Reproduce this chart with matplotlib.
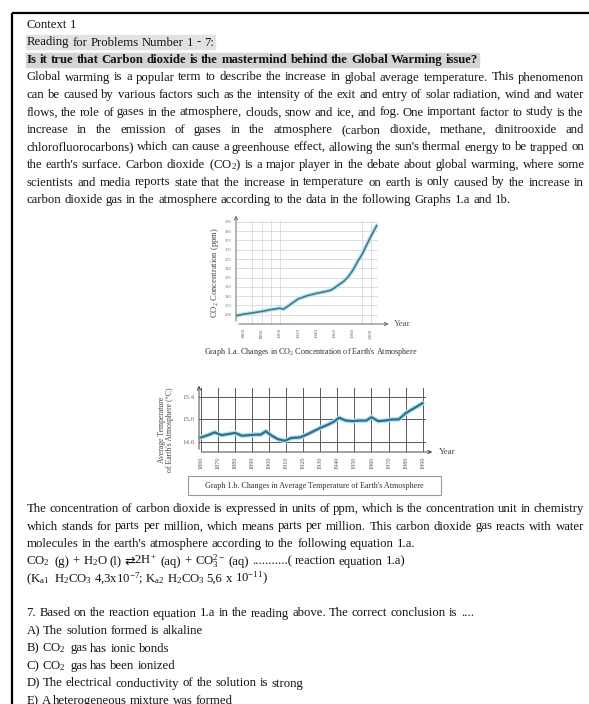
import matplotlib
matplotlib.use("Agg")
import matplotlib.pyplot as plt
from matplotlib.patches import Rectangle

plt.rcParams['font.family'] = ['Liberation Serif', 'DejaVu Sans']
plt.rcParams['mathtext.fontset'] = 'custom'
plt.rcParams['mathtext.rm'] = 'Liberation Serif'
plt.rcParams['mathtext.it'] = 'Liberation Serif:italic'
plt.rcParams['mathtext.bf'] = 'Liberation Serif:bold'

# Graph 1.a - CO2 concentration (ppm)
co2_years = [1852, 1860, 1870, 1880, 1890, 1900, 1904, 1910, 1920, 1930, 1940,
             1950, 1956, 1960, 1970, 1975, 1980, 1985, 1990, 1995, 2000, 2006]
co2_ppm = [289, 290.5, 292, 293.5, 295.5, 297, 296, 300, 307, 310.5, 313,
           315, 316.5, 319, 326, 331, 338, 347, 355, 365, 375, 386]
co2_xticks = [1860, 1880, 1900, 1920, 1940, 1960, 1980, 2000]
co2_yticks = [290, 300, 310, 320, 330, 340, 350, 360, 370, 380, 390]
co2_vgrid = [1870, 1880, 1890, 1900, 1990, 2000]

# Graph 1.b - average temperature (C)
temp_years = [1860, 1864, 1868, 1872, 1876, 1880, 1884, 1888, 1892, 1895, 1898,
              1901, 1905, 1909, 1913, 1918, 1922, 1926, 1930, 1934, 1938, 1941,
              1945, 1949, 1953, 1957, 1960, 1964, 1968, 1972, 1976, 1980, 1985, 1990]
temp_c = [14.68, 14.72, 14.77, 14.72, 14.74, 14.76, 14.71, 14.72, 14.73, 14.73, 14.79,
          14.72, 14.65, 14.62, 14.67, 14.68, 14.73, 14.79, 14.85, 14.90, 14.96, 15.03,
          14.98, 14.97, 14.98, 14.98, 15.04, 14.97, 14.98, 15.00, 15.00, 15.11, 15.20, 15.29]
temp_xticks = [1860, 1870, 1880, 1890, 1900, 1910, 1920, 1930, 1940, 1950, 1960, 1970, 1980, 1990]
temp_yticks = [14.6, 15.0, 15.4]

CO2 = r'$\mathregular{CO_2}$'

header = ["Context 1", "Reading for Problems Number 1 - 7:",
          "Is it true that Carbon dioxide is the mastermind behind the Global Warming issue?"]

para1 = [
    "Global warming is a popular term to describe the increase in global average temperature. This phenomenon",
    "can be caused by various factors such as the intensity of the exit and entry of solar radiation, wind and water",
    "flows, the role of gases in the atmosphere, clouds, snow and ice, and fog. One important factor to study is the",
    "increase in the emission of gases in the atmosphere (carbon dioxide, methane, dinitrooxide and",
    "chlorofluorocarbons) which can cause a greenhouse effect, allowing the sun's thermal energy to be trapped on",
    "the earth's surface. Carbon dioxide (" + CO2 + ") is a major player in the debate about global warming, where some",
    "scientists and media reports state that the increase in temperature on earth is only caused by the increase in",
    "carbon dioxide gas in the atmosphere according to the data in the following Graphs 1.a and 1b.",
]

para2 = [
    "The concentration of carbon dioxide is expressed in units of ppm, which is the concentration unit in chemistry",
    "which stands for parts per million, which means parts per million. This carbon dioxide gas reacts with water",
    "molecules in the earth's atmosphere according to the following equation 1.a.",
    # the equilibrium arrow is a plain word so it can fall back to DejaVu Sans
    CO2 + r" (g) + $\mathregular{H_2}$O (l) ⇄ 2H$\mathregular{^+}$ (aq) + $\mathregular{CO_3^{2-}}$ (aq) ...........( reaction equation 1.a)",
    r"($\mathregular{K_{a1}}$ $\mathregular{H_2CO_3}$ 4,3x10$\mathregular{^{-7}}$; "
    r"$\mathregular{K_{a2}}$ $\mathregular{H_2CO_3}$ 5,6 x 10$\mathregular{^{-11}}$)",
]

question = [
    "7. Based on the reaction equation 1.a in the reading above. The correct conclusion is ....",
    "A) The solution formed is alkaline",
    "B) " + CO2 + " gas has ionic bonds",
    "C) " + CO2 + " gas has been ionized",
    "D) The electrical conductivity of the solution is strong",
    "E) A heterogeneous mixture was formed",
]

W, H = 589, 704
LEFT, RIGHT = 26.5, 584
STEP = 17.5
FS = 9.15
INK = '#141414'

fig = plt.figure(figsize=(W / 100, H / 100), dpi=100)
page = fig.add_axes([0, 0, 1, 1])
page.set_xlim(0, W)
page.set_ylim(H, 0)
page.axis('off')
renderer = fig.canvas.get_renderer()


def ink_width(s, **kw):
    t = page.text(0, 0, s, fontsize=FS, **kw)
    w = t.get_window_extent(renderer).width
    t.remove()
    return w


def put_line(text, y, justify=False, **kw):
    # each word sits where it falls in the whole line, measured as a prefix
    words = text.split(' ')
    wx = ink_width('x', **kw)
    starts = [0.0]
    for i in range(1, len(words)):
        starts.append(ink_width(' '.join(words[:i]) + ' x', **kw) - wx)
    full = ink_width(text, **kw)
    extra = (RIGHT - LEFT - full) / (len(words) - 1) if justify and len(words) > 1 else 0.0
    for i, (w, s) in enumerate(zip(words, starts)):
        page.text(LEFT + s + i * extra, y, w, va='baseline', fontsize=FS, color=INK, **kw)
    return LEFT + full + extra * (len(words) - 1)


# page frame
page.plot([12, 12], [12.5, H], color='black', lw=1.6, solid_capstyle='butt')
page.plot([12, W], [12.5, 12.5], color='black', lw=1.6, solid_capstyle='butt')

y = 28
put_line(header[0], y)
y += STEP
end = put_line(header[1], y)
page.add_patch(Rectangle((LEFT - 1, y - 10.5), end - LEFT + 2, 14, color='#e2e2e2', zorder=0))
y += STEP
end = put_line(header[2], y, fontweight='bold')
page.add_patch(Rectangle((LEFT - 1, y - 10.5), end - LEFT + 2, 14, color='#d4d4d4', zorder=0))
y += STEP
for i, line in enumerate(para1):
    put_line(line, y, justify=i < len(para1) - 1)
    y += STEP

y = 512
for i, line in enumerate(para2):
    put_line(line, y, justify=i < 2)
    y += STEP

y = 616.5
for line in question:
    put_line(line, y)
    y += STEP


def px_axes(left, top, right, bottom):
    return fig.add_axes([left / W, 1 - bottom / H, (right - left) / W, (bottom - top) / H])


def style_axes(ax, arrow_col, xtip):
    for s in ax.spines.values():
        s.set_visible(False)
    ax.tick_params(length=0)
    ax.patch.set_alpha(0)
    arrow = dict(arrowstyle='->', lw=0.7, color=arrow_col, mutation_scale=6)
    ax.annotate('', xy=(0, 1.08), xytext=(0, 0), xycoords='axes fraction',
                arrowprops=arrow, annotation_clip=False)
    ax.annotate('', xy=(xtip, 0), xytext=(0, 0), xycoords='axes fraction',
                arrowprops=arrow, annotation_clip=False)


# Graph 1.a
ax1 = px_axes(236, 221, 378, 324)
style_axes(ax1, '#6a6a6a', 1.095)
for v in co2_yticks:
    ax1.axhline(v, color='#d9d9d9', lw=0.6, zorder=0)
for v in co2_vgrid:
    ax1.axvline(v, color='#d9d9d9', lw=0.6, zorder=0)
ax1.plot(co2_years, co2_ppm, color='#bfe3ec', lw=3.0, solid_capstyle='round')
ax1.plot(co2_years, co2_ppm, color='#3d7b91', lw=1.2)
ax1.set_xlim(1852, 2007.5)
ax1.set_ylim(280, 391)
ax1.set_yticks(co2_yticks)
ax1.set_yticklabels([str(v) for v in co2_yticks], fontsize=3.3, color='#777')
ax1.set_xticks(co2_xticks)
ax1.set_xticklabels([str(v) for v in co2_xticks], fontsize=3.6, color='#666', rotation=90)
ax1.tick_params(axis='both', pad=3)
page.text(215, 272, CO2 + ' Concentration (ppm)', rotation=90, ha='center', va='center',
          fontsize=6.2, color='#444')
page.text(394, 324, 'Year', ha='left', va='center', fontsize=6.5, color='#555')
page.text(311, 352, 'Graph 1.a. Changes in ' + CO2 + " Concentration of Earth's Atmosphere",
          ha='center', va='center', fontsize=5.9, color='#333')

# Graph 1.b
ax2 = px_axes(199, 388, 426, 452)
style_axes(ax2, '#444', 1.04)
for v in temp_yticks:
    ax2.axhline(v, color='#5a5a5a', lw=0.7, zorder=0)
for v in temp_xticks:
    ax2.axvline(v, color='#5a5a5a', lw=0.7, zorder=0)
ax2.plot(temp_years, temp_c, color='#b4e1ee', lw=3.4, solid_capstyle='round')
ax2.plot(temp_years, temp_c, color='#2e6f8d', lw=1.6)
ax2.set_xlim(1858.8, 1992)
ax2.set_ylim(14.42, 15.56)
ax2.set_yticks(temp_yticks)
ax2.set_yticklabels(['%.1f' % v for v in temp_yticks], fontsize=5, color='#666')
ax2.set_xticks(temp_xticks)
ax2.set_xticklabels([str(v) for v in temp_xticks], fontsize=4.4, color='#555', rotation=90)
ax2.tick_params(axis='both', pad=3)
page.text(166, 430, "Average Temperature\nof Earth's Atmosphere (°C)", rotation=90,
          ha='center', va='center', fontsize=5.6, color='#444', linespacing=0.95)
page.text(439, 452, 'Year', ha='left', va='center', fontsize=6.5, color='#444')
page.add_patch(Rectangle((188, 476), 253, 19, fc='none', ec='#9a9a9a', lw=0.8))
page.text(314.5, 485.5, "Graph 1.b. Changes in Average Temperature of Earth's Atmosphere",
          ha='center', va='center', fontsize=5.9, color='#333')

fig.savefig('out.png', dpi=100)
